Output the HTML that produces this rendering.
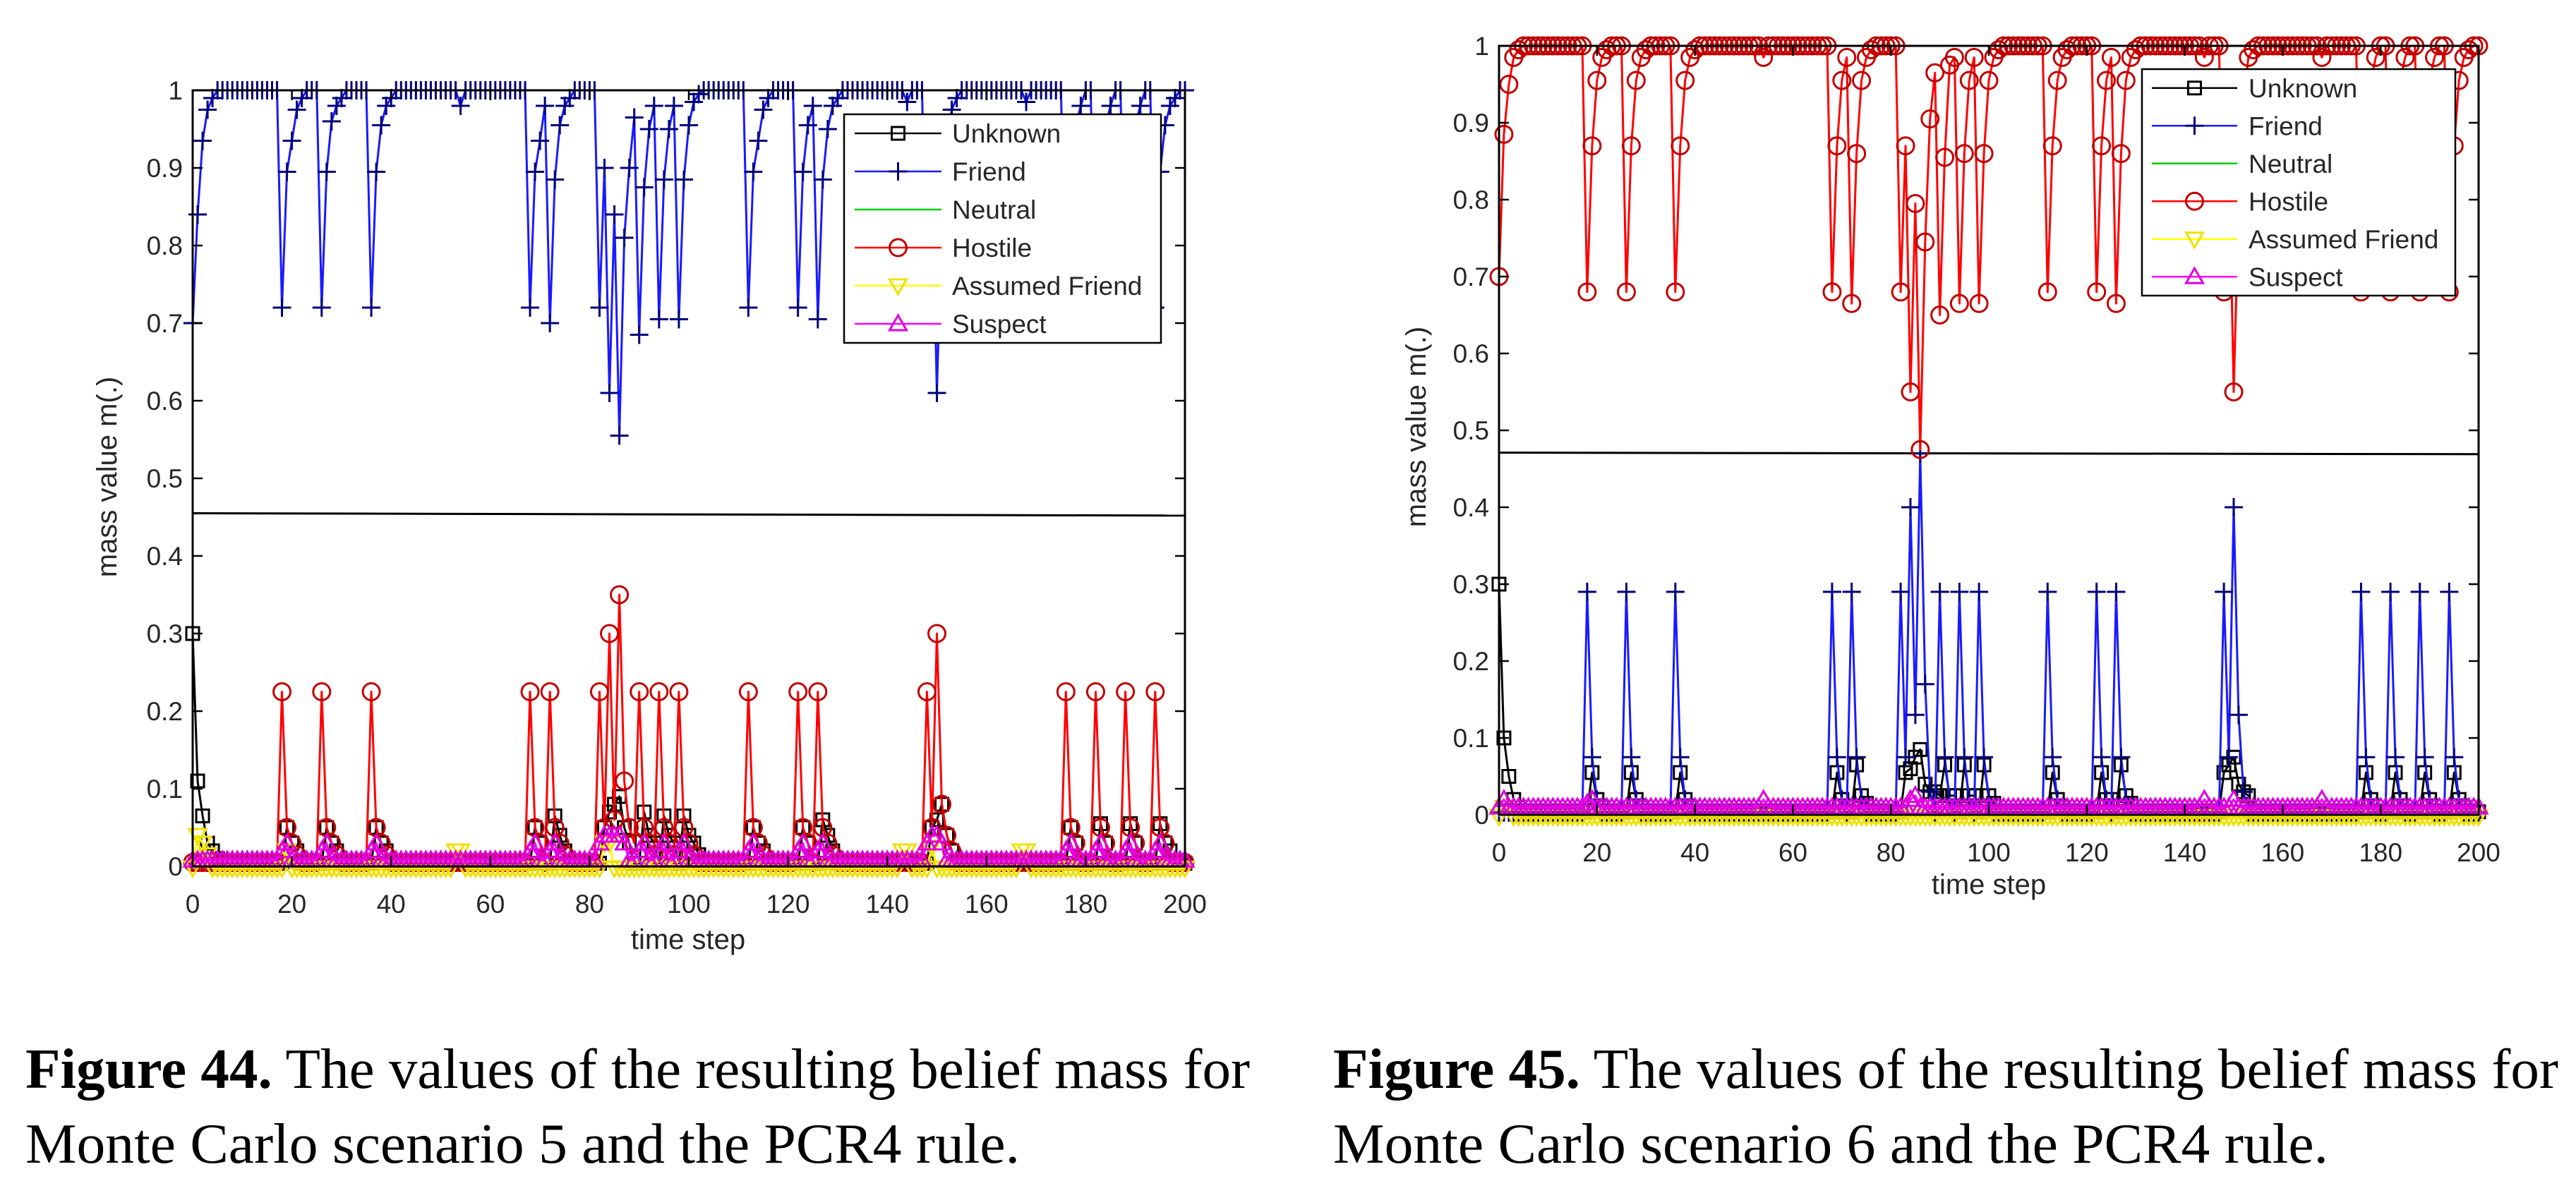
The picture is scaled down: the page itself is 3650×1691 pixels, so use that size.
<!DOCTYPE html>
<html><head><meta charset="utf-8"><style>
html,body{margin:0;padding:0;background:#fff;}
svg{display:block;}
</style></head><body>
<svg id="root" width="3650" height="1691" viewBox="0 0 3650 1691" xmlns="http://www.w3.org/2000/svg">
<rect width="3650" height="1691" fill="#fff"/>
<text x="36" y="1542" font-family="Liberation Serif, serif" font-size="80" textLength="1735" lengthAdjust="spacingAndGlyphs"><tspan font-weight="bold">Figure 44.</tspan> The values of the resulting belief mass for</text>
<text x="36" y="1648" font-family="Liberation Serif, serif" font-size="80" textLength="1409" lengthAdjust="spacingAndGlyphs">Monte Carlo scenario 5 and the PCR4 rule.</text>
<text x="1889" y="1542" font-family="Liberation Serif, serif" font-size="80" textLength="1736" lengthAdjust="spacingAndGlyphs"><tspan font-weight="bold">Figure 45.</tspan> The values of the resulting belief mass for</text>
<text x="1889" y="1648" font-family="Liberation Serif, serif" font-size="80" textLength="1410" lengthAdjust="spacingAndGlyphs">Monte Carlo scenario 6 and the PCR4 rule.</text>
</svg>
<script>
const xTicks = [0,20,40,60,80,100,120,140,160,180,200];
const yTicks = [0,0.1,0.2,0.3,0.4,0.5,0.6,0.7,0.8,0.9,1];
const yTickLabels = ["0","0.1","0.2","0.3","0.4","0.5","0.6","0.7","0.8","0.9","1"];
const legendNames = ["Unknown","Friend","Neutral","Hostile","Assumed Friend","Suspect"];
const nSteps = 201;

const f44UnknownBase = 0.004;
const f44Unknown = [0,.3,1,.11,2,.065,3,.03,4,.02,5,.01,
 19,.05,20,.03,21,.02,27,.05,28,.03,29,.02,37,.05,38,.03,39,.02,
 69,.05,70,.03,73,.065,74,.04,75,.02,83,.05,84,.07,85,.08,86,.09,87,.05,88,.03,
 91,.07,92,.04,93,.03,95,.065,96,.04,97,.03,99,.065,100,.04,101,.03,102,.015,
 113,.05,114,.03,115,.02,123,.05,124,.03,127,.06,128,.04,129,.02,
 149,.05,150,.06,151,.08,152,.04,153,.02,177,.05,178,.03,183,.055,184,.03,189,.055,190,.03,195,.055,196,.03,197,.02];
const f44FriendBase = 1;
const f44Friend = [0,.70,1,.84,2,.935,3,.975,4,.99,
 18,.72,19,.895,20,.935,21,.975,22,.99,26,.72,27,.895,28,.96,29,.98,30,.99,
 36,.72,37,.895,38,.955,39,.98,40,.99,54,.98,
 68,.72,69,.895,70,.935,71,.98,72,.70,73,.885,74,.955,75,.98,76,.99,
 82,.72,83,.9,84,.61,85,.84,86,.555,87,.81,88,.9,89,.965,90,.685,91,.875,92,.95,93,.98,
 94,.705,95,.885,96,.95,97,.98,98,.705,99,.885,100,.955,101,.985,102,.995,
 112,.72,113,.895,114,.935,115,.975,116,.99,122,.72,123,.895,124,.955,125,.98,
 126,.705,127,.885,128,.95,129,.98,130,.99,144,.985,
 148,.72,149,.9,150,.61,151,.84,152,.935,153,.975,154,.99,168,.985,
 176,.72,177,.895,178,.955,179,.98,182,.72,183,.895,184,.955,185,.98,
 188,.72,189,.895,190,.955,191,.98,194,.72,195,.895,196,.955,197,.98,198,.99];
const f44NeutralBase = 0;
const f44Neutral = [];
const f44HostileBase = 0.005;
const f44Hostile = [18,.225,19,.05,20,.03,21,.015,26,.225,27,.05,28,.03,29,.015,36,.225,37,.05,38,.03,39,.015,
 68,.225,69,.05,70,.03,72,.225,73,.05,74,.03,75,.015,
 82,.225,83,.05,84,.3,85,.06,86,.35,87,.11,88,.05,89,.03,90,.225,91,.05,92,.03,93,.015,
 94,.225,95,.05,96,.03,97,.015,98,.225,99,.05,100,.03,101,.015,
 112,.225,113,.05,114,.03,115,.015,122,.225,123,.05,124,.03,126,.225,127,.05,128,.03,129,.015,
 148,.225,149,.05,150,.3,151,.08,152,.04,153,.02,
 176,.225,177,.05,178,.03,182,.225,183,.05,184,.03,188,.225,189,.05,190,.03,194,.225,195,.05,196,.03];
const f44AssumedBase = -0.002;
const f44Assumed = [1,.04,2,.03,3,.015,53,.02,54,.02,143,.02,144,.02,167,.02,168,.02,19,.02,83,.03,84,.03,149,.025];
const f44SuspectBase = 0.008;
const f44Suspect = [18,.02,19,.03,26,.02,27,.03,36,.02,37,.03,68,.02,69,.03,72,.02,73,.03,
 82,.03,83,.04,84,.04,85,.04,86,.04,87,.03,90,.02,91,.03,94,.02,95,.03,98,.02,99,.03,
 112,.02,113,.03,122,.02,123,.03,126,.02,127,.03,148,.03,149,.04,150,.04,151,.03,
 176,.02,177,.03,182,.02,183,.03,188,.02,189,.03,194,.02,195,.03];
const f44Level = [0.455, 0.452];

const f45UnknownBase = 0.004;
const f45Unknown = [0,.3,1,.1,2,.05,3,.02,4,.01,
 19,.055,20,.02,21,.01,27,.055,28,.02,29,.01,37,.055,38,.02,39,.01,
 69,.055,70,.02,73,.065,74,.025,75,.015,83,.055,84,.06,85,.075,86,.085,87,.04,88,.03,89,.03,90,.025,
 91,.065,92,.025,93,.025,95,.065,96,.025,97,.025,99,.065,100,.025,101,.015,
 113,.055,114,.02,115,.01,123,.055,124,.02,125,.02,127,.065,128,.025,129,.015,
 148,.055,149,.065,150,.075,151,.04,152,.03,153,.025,
 177,.055,178,.02,183,.055,184,.02,189,.055,190,.02,195,.055,196,.02,197,.01];
const f45FriendBase = 0.003;
const f45Friend = [18,.29,19,.075,20,.02,26,.29,27,.075,28,.02,36,.29,37,.075,38,.02,
 68,.29,69,.075,70,.02,72,.29,73,.075,74,.02,
 82,.29,83,.075,84,.4,85,.13,86,.47,87,.17,88,.03,90,.29,91,.075,92,.02,94,.29,95,.075,96,.02,98,.29,99,.075,100,.02,
 112,.29,113,.075,114,.02,122,.29,123,.075,124,.02,126,.29,127,.075,128,.02,
 148,.29,149,.075,150,.4,151,.13,152,.03,
 176,.29,177,.075,178,.02,182,.29,183,.075,184,.02,188,.29,189,.075,190,.02,194,.29,195,.075,196,.02];
const f45NeutralBase = 0;
const f45Neutral = [];
const f45HostileBase = 1;
const f45Hostile = [0,.70,1,.885,2,.95,3,.985,4,.995,
 18,.68,19,.87,20,.955,21,.985,22,.995,26,.68,27,.87,28,.955,29,.985,30,.995,
 36,.68,37,.87,38,.955,39,.985,40,.995,54,.985,
 68,.68,69,.87,70,.955,71,.985,72,.665,73,.86,74,.955,75,.985,76,.995,
 82,.68,83,.87,84,.55,85,.795,86,.475,87,.745,88,.905,89,.965,90,.65,91,.855,92,.975,93,.985,
 94,.665,95,.86,96,.955,97,.985,98,.665,99,.86,100,.955,101,.985,102,.995,
 112,.68,113,.87,114,.955,115,.985,116,.995,122,.68,123,.87,124,.955,125,.985,
 126,.665,127,.86,128,.955,129,.985,130,.995,144,.985,
 148,.68,149,.87,150,.55,151,.79,152,.93,153,.985,154,.995,168,.985,
 176,.68,177,.87,178,.955,179,.985,182,.68,183,.87,184,.955,185,.985,
 188,.68,189,.87,190,.955,191,.985,194,.68,195,.87,196,.955,197,.985,198,.995];
const f45AssumedBase = -0.002;
const f45Assumed = [1,.01,2,.01];
const f45SuspectBase = 0.01;
const f45Suspect = [1,.02,18,.015,19,.02,54,.02,84,.02,85,.025,144,.02,150,.02,168,.02];
const f45Level = [0.471, 0.469];

const NS = "http://www.w3.org/2000/svg";
const root = document.getElementById('root');
function mk(tag, attrs, parent){ const e=document.createElementNS(NS,tag); for(const k in attrs) e.setAttribute(k,attrs[k]); (parent||root).appendChild(e); return e; }
function expand(base, pairs){ const v=new Array(nSteps).fill(base); for(let i=0;i<pairs.length;i+=2) v[pairs[i]]=pairs[i+1]; return v; }

function marker(g, type, x, y, color){
  const s=13;
  if(type==='square') mk('rect',{x:x-9,y:y-9,width:18,height:18,fill:'none',stroke:color,'stroke-width':3},g);
  else if(type==='plus') mk('path',{d:`M${x-s} ${y}H${x+s}M${x} ${y-s}V${y+s}`,stroke:color,'stroke-width':3,fill:'none'},g);
  else if(type==='circle') mk('circle',{cx:x,cy:y,r:12,fill:'none',stroke:color,'stroke-width':3},g);
  else if(type==='tridown') mk('path',{d:`M${x-12} ${y-9}L${x+12} ${y-9}L${x} ${y+12}Z`,fill:'none',stroke:color,'stroke-width':3},g);
  else if(type==='triup') mk('path',{d:`M${x-12} ${y+9}L${x+12} ${y+9}L${x} ${y-12}Z`,fill:'none',stroke:color,'stroke-width':3},g);
}

function drawChart(id, box, series, level, legendBox, labels){
  const {L,T,R,B} = box;
  const xs = t => L + (R-L)*t/200;
  const ys = v => B - (B-T)*v;
  const g = mk('g',{});
  
  
  mk('rect',{x:L,y:T,width:R-L,height:B-T,fill:'#fff'},g);
  const lv = mk('line',{x1:xs(0),y1:ys(level[0]),x2:xs(200),y2:ys(level[1]),stroke:'#000','stroke-width':3},g);
  
  
  const clip = mk('g',{},g);
  series.forEach(s=>{
    const sg = mk('g',{},clip);
    
    
    const vals = expand(s.base, s.pairs);
    let d='';
    vals.forEach((v,i)=>{ d += (i?'L':'M')+xs(i).toFixed(1)+' '+ys(v).toFixed(1); });
    mk('path',{d:d,fill:'none',stroke:s.color,'stroke-width':3,'stroke-linejoin':'round'},sg);
    vals.forEach((v,i)=> marker(sg, s.marker, xs(i), ys(v), s.mcolor));
  });
  const ax = mk('g',{},g);
  
  
  mk('rect',{x:L,y:T,width:R-L,height:B-T,fill:'none',stroke:'#000','stroke-width':3},ax);
  yTicks.forEach((v,i)=>{
    const y=ys(v);
    mk('line',{x1:L,y1:y,x2:L+14,y2:y,stroke:'#000','stroke-width':2.5},ax);
    mk('line',{x1:R,y1:y,x2:R-14,y2:y,stroke:'#000','stroke-width':2.5},ax);
    const t = mk('text',{x:L-14,y:y+13,'text-anchor':'end','font-family':'Liberation Sans, sans-serif','font-size':37,fill:'#262626'},ax);
    
    
    t.textContent = yTickLabels[i];
  });
  xTicks.forEach(v=>{
    const x=xs(v);
    mk('line',{x1:x,y1:B,x2:x,y2:B-14,stroke:'#000','stroke-width':2.5},ax);
    mk('line',{x1:x,y1:T,x2:x,y2:T+14,stroke:'#000','stroke-width':2.5},ax);
    const t = mk('text',{x:x,y:B+66,'text-anchor':'middle','font-family':'Liberation Sans, sans-serif','font-size':37,fill:'#262626'},ax);
    
    
    t.textContent = v;
  });
  const xl = mk('text',{x:labels.xl[0],y:labels.xl[1],'text-anchor':'middle','font-family':'Liberation Sans, sans-serif','font-size':40,fill:'#262626'},g);
  
  
  xl.textContent='time step';
  const yl = mk('text',{x:0,y:0,'text-anchor':'middle','font-family':'Liberation Sans, sans-serif','font-size':40,fill:'#262626',transform:`translate(${labels.yl[0]},${labels.yl[1]}) rotate(-90)`},g);
  
  
  yl.textContent='mass value m(.)';
  const lg = mk('g',{},g);
  
  
  const {x0,y0,x1,y1,s0,s1,tx} = legendBox;
  mk('rect',{x:x0,y:y0,width:x1-x0,height:y1-y0,fill:'#fff',stroke:'#000','stroke-width':2.5},lg);
  const rowH=(y1-y0)/6;
  series.forEach((s,i)=>{
    const e = mk('g',{},lg);
    
    
    const y = y0 + rowH*(i+0.5);
    mk('line',{x1:s0,y1:y,x2:s1,y2:y,stroke:s.color,'stroke-width':2.5},e);
    marker(e, s.marker, (s0+s1)/2, y, s.mcolor);
    const t = mk('text',{x:tx,y:y+13,'font-family':'Liberation Sans, sans-serif','font-size':37,fill:'#262626'},e);
    t.textContent = legendNames[i];
  });
}

function seriesSet(u,ub,f,fb,n,nb,h,hb,a,ab,s,sb){
  return [
    {key:'unknown',base:ub,pairs:u,color:'#000',mcolor:'#000',marker:'square'},
    {key:'friend',base:fb,pairs:f,color:'#1a1aff',mcolor:'#00007a',marker:'plus'},
    {key:'neutral',base:nb,pairs:n,color:'#00cc00',mcolor:'#00cc00',marker:'none'},
    {key:'hostile',base:hb,pairs:h,color:'#ff0000',mcolor:'#c00000',marker:'circle'},
    {key:'assumed-friend',base:ab,pairs:a,color:'#ffff00',mcolor:'#f0e000',marker:'tridown'},
    {key:'suspect',base:sb,pairs:s,color:'#ff00ff',mcolor:'#e000e0',marker:'triup'}
  ];
}

drawChart('fig44', {L:273,T:128,R:1679,B:1228},
  seriesSet(f44Unknown,f44UnknownBase,f44Friend,f44FriendBase,f44Neutral,f44NeutralBase,f44Hostile,f44HostileBase,f44Assumed,f44AssumedBase,f44Suspect,f44SuspectBase),
  f44Level, {x0:1196,y0:162,x1:1645,y1:486,s0:1211,s1:1334,tx:1349},
  {xl:[975,1345], yl:[165,676]});

drawChart('fig45', {L:2124,T:65,R:3512,B:1155},
  seriesSet(f45Unknown,f45UnknownBase,f45Friend,f45FriendBase,f45Neutral,f45NeutralBase,f45Hostile,f45HostileBase,f45Assumed,f45AssumedBase,f45Suspect,f45SuspectBase),
  f45Level, {x0:3035,y0:98,x1:3479,y1:419,s0:3049,s1:3170,tx:3186},
  {xl:[2818,1267], yl:[2020,605]});
</script>
</body></html>
